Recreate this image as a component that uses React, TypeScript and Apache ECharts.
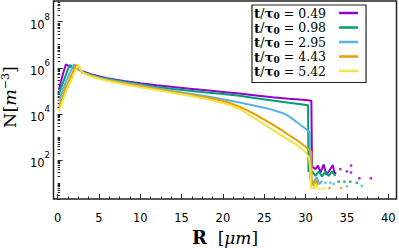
import React, { useEffect, useRef } from 'react';
import * as echarts from 'echarts';

// legend values t/tau0
const timeLabels = ['0.49', '0.98', '2.95', '4.43', '5.42'];
const colors = ['#9400D3', '#009E73', '#56B4E9', '#E69F00', '#F0E442'];

// x tick labels (R in μm) and y tick exponents (N = 10^k)
const xTicks = [0, 5, 10, 15, 20, 25, 30, 35, 40];
const yTickExp = [2, 4, 6, 8];

// Main curves: [R (μm), log10 N (m^-3)]
const curve049: [number, number][] = [
  [0.15, 5.05], [0.4, 5.4], [0.7, 5.8], [1.0, 6.15], [1.2, 6.1], [1.6, 6.05], [2.0, 6.0], [2.5, 5.95],
  [3.0, 5.85], [4, 5.72], [5, 5.63], [6, 5.55], [8, 5.43], [10, 5.33], [12, 5.24], [14, 5.16],
  [16, 5.09], [18, 5.02], [20, 4.95], [22, 4.88], [24, 4.8], [26, 4.72], [28, 4.65], [30, 4.6],
  [30.7, 4.57], [30.75, 2.6], [30.8, 1.7], [31.2, 1.6], [31.5, 1.75], [31.8, 1.45], [32.2, 1.8],
  [32.5, 1.35], [32.9, 1.55], [33.3, 1.78], [33.5, 1.4], [33.7, 1.45],
];
const curve098: [number, number][] = [
  [0.15, 4.85], [0.5, 5.2], [0.9, 5.6], [1.2, 5.9], [1.5, 6.12], [1.8, 6.02], [2.2, 5.96], [2.6, 5.92],
  [3.0, 5.82], [4, 5.7], [5, 5.6], [6, 5.52], [8, 5.39], [10, 5.28], [12, 5.17], [14, 5.08],
  [16, 5.0], [18, 4.93], [20, 4.86], [22, 4.78], [24, 4.68], [26, 4.58], [28, 4.48], [30.3, 4.37],
  [30.35, 1.5], [30.8, 1.5], [31.2, 1.3], [31.6, 1.5], [32.0, 1.28], [32.4, 1.5], [32.8, 1.3],
  [33.2, 1.5], [33.6, 1.3],
];
const curve295: [number, number][] = [
  [0.15, 4.55], [0.6, 5.0], [1.0, 5.4], [1.5, 5.8], [2.0, 6.15], [2.3, 6.0], [2.7, 5.9], [3.0, 5.8],
  [4, 5.68], [5, 5.58], [6, 5.49], [8, 5.36], [10, 5.24], [12, 5.11], [14, 4.98], [16, 4.87],
  [18, 4.76], [20, 4.63], [22, 4.49], [24, 4.34], [25, 4.26], [26, 4.17], [27, 4.06], [27.5, 3.99],
  [28, 3.89], [28.5, 3.76], [29, 3.62], [29.5, 3.48], [30.2, 3.3], [30.5, 3.2], [30.55, 1.2],
  [30.9, 1.0], [31.3, 1.25], [31.7, 0.95], [32.0, 1.1],
];
const curve443: [number, number][] = [
  [0.15, 4.3], [0.6, 4.75], [1.0, 5.15], [1.5, 5.55], [2.0, 5.95], [2.3, 6.13], [2.6, 5.95], [3.0, 5.78],
  [4, 5.66], [5, 5.55], [6, 5.47], [8, 5.33], [10, 5.21], [12, 5.08], [14, 4.95], [16, 4.83],
  [17, 4.77], [18, 4.71], [19, 4.64], [20, 4.56], [21, 4.45], [22, 4.31], [23, 4.14], [24, 3.95],
  [25, 3.75], [26, 3.54], [27, 3.31], [28, 3.07], [29, 2.84], [30, 2.57], [30.7, 2.35], [30.75, 0.95],
  [31.0, 0.9], [31.3, 1.1], [31.5, 0.9],
];
const curve542: [number, number][] = [
  [0.15, 4.1], [0.6, 4.55], [1.0, 4.95], [1.5, 5.35], [2.0, 5.75], [2.5, 6.13], [2.8, 5.9], [3.2, 5.75],
  [4, 5.62], [5, 5.52], [6, 5.44], [8, 5.28], [10, 5.15], [12, 5.03], [14, 4.9], [16, 4.78],
  [17, 4.71], [18, 4.64], [19, 4.56], [20, 4.47], [21, 4.36], [22, 4.21], [23, 4.0], [24, 3.77],
  [25, 3.54], [26, 3.31], [27, 3.07], [28, 2.86], [29, 2.63], [30, 2.33], [30.4, 2.1], [30.6, 1.5],
  [30.65, 0.78], [31.1, 0.78], [31.2, 0.95], [31.4, 0.78],
];

// Isolated points beyond the edge: [R, log10 N]
const tail049: [number, number][] = [[34.2, 1.6], [35.0, 1.5], [35.5, 1.75], [35.5, 1.45], [36.5, 1.2], [37.9, 1.2]];
const tail098: [number, number][] = [[34.0, 1.05], [34.7, 1.05], [35.4, 1.05], [36.2, 1.0]];
const tail295: [number, number][] = [[32.4, 1.0], [33.0, 1.0], [33.4, 0.95], [35.0, 0.85], [36.8, 0.87]];
const tail443: [number, number][] = [[32.9, 0.78], [34.3, 0.78]];
const tail542: [number, number][] = [[31.7, 0.75], [32.2, 0.75]];

const curves = [curve049, curve098, curve295, curve443, curve542];
const tails = [tail049, tail098, tail295, tail443, tail542];

export default function App() {
  const ref = useRef<HTMLDivElement>(null);
  useEffect(() => {
    if (!ref.current) return;
    const chart = echarts.init(ref.current, undefined, { renderer: 'svg' });

    const xMinor: number[] = [];
    for (let v = 0; v <= 40.01; v += 1.25) if (Math.abs(v / 5 - Math.round(v / 5)) > 1e-6) xMinor.push(v);
    const yMinor: number[] = [];
    for (let n = 0; n <= 8; n++) {
      if (n % 2 === 1) yMinor.push(n);
      for (let k = 2; k <= 9; k++) {
        const v = n + Math.log10(k);
        if (v > 0.3 && v < 8.9) yMinor.push(v);
      }
    }

    const serif = 'DejaVu Serif';
    const series: any[] = [];
    curves.forEach((c, i) => {
      series.push({
        type: 'line',
        name: timeLabels[i],
        data: c,
        symbol: 'none',
        color: colors[i],
        lineStyle: { width: 2, color: colors[i] },
        z: 2 + i,
      });
    });
    tails.forEach((t, i) => {
      series.push({
        type: 'scatter',
        data: t,
        symbol: 'rect',
        symbolSize: 2.5,
        itemStyle: { color: colors[i] },
        z: 2 + i,
      });
    });

    const option: any = {
      animation: false,
      grid: {
        left: 53.5, right: 2.5, top: 1, bottom: 49,
        show: true, borderColor: '#222', borderWidth: 1.5,
        outerBoundsMode: 'none',
      },
      legend: {
        data: timeLabels,
        orient: 'vertical',
        left: 252,
        top: 5,
        align: 'right',
        icon: 'rect',
        itemWidth: 19,
        itemHeight: 2.5,
        itemGap: 0,
        padding: [1, 8, 4, 2],
        borderColor: '#222',
        borderWidth: 1.2,
        backgroundColor: '#fff',
        formatter: (name: string) => `{b|t}{r|/}{b|τ}{s|0}{r| = ${name}}{g|}`,
        textStyle: {
          fontFamily: serif,
          fontSize: 12.5,
          color: '#000',
          rich: {
            b: { fontFamily: serif, fontWeight: 'bold', fontSize: 13.5, lineHeight: 15, color: '#000' },
            r: { fontFamily: serif, fontSize: 12.5, lineHeight: 15, color: '#000' },
            s: { fontFamily: serif, fontWeight: 'bold', fontSize: 9, lineHeight: 15, verticalAlign: 'bottom', color: '#000' },
            g: { width: 8, lineHeight: 15 },
          },
        },
      },
      xAxis: [
        {
          type: 'value', min: -0.5, max: 41,
          name: '{b|R}{r|  [}{i|μm}{r|]}',
          nameLocation: 'middle', nameGap: 26,
          nameTextStyle: {
            rich: {
              b: { fontFamily: serif, fontWeight: 'bold', fontSize: 18, color: '#000' },
              r: { fontFamily: serif, fontSize: 17, color: '#000' },
              i: { fontFamily: serif, fontStyle: 'italic', fontSize: 17, color: '#000' },
            },
          },
          axisLine: { show: false },
          splitLine: { show: false },
          axisTick: { show: true, inside: true, length: 5, customValues: xTicks, lineStyle: { color: '#222' } },
          axisLabel: {
            customValues: xTicks, fontFamily: 'DejaVu Sans', fontSize: 11.5, color: '#000', margin: 13,
          },
        },
        {
          type: 'value', min: -0.5, max: 41, position: 'bottom', offset: 0,
          axisLine: { show: false }, splitLine: { show: false }, axisLabel: { show: false },
          axisTick: { show: true, inside: true, length: 2.5, customValues: xMinor, lineStyle: { color: '#222' } },
        },
      ],
      yAxis: [
        {
          type: 'value', min: 0.3, max: 8.9,
          name: '{r|N[}{i|m}{s|−3}{r|]}',
          nameLocation: 'middle', nameGap: 25, nameRotate: 90,
          nameTextStyle: {
            padding: [0, 0, 0, 6],
            rich: {
              r: { fontFamily: serif, fontSize: 17.5, color: '#000', lineHeight: 20 },
              i: { fontFamily: serif, fontStyle: 'italic', fontSize: 17.5, color: '#000', lineHeight: 20 },
              s: { fontFamily: serif, fontSize: 11, color: '#000', verticalAlign: 'top', lineHeight: 20 },
            },
          },
          axisLine: { show: false },
          splitLine: { show: false },
          axisTick: { show: true, inside: true, length: 5, customValues: yTickExp, lineStyle: { color: '#222' } },
          axisLabel: {
            customValues: yTickExp, color: '#000', margin: 3.5,
            formatter: (v: number) => `{a|10}{e|${Math.round(v)}}`,
            rich: {
              a: { fontFamily: 'DejaVu Sans', fontSize: 11.5, color: '#000', lineHeight: 18, verticalAlign: 'bottom' },
              e: { fontFamily: 'DejaVu Sans', fontSize: 8.5, color: '#000', lineHeight: 18, verticalAlign: 'top' },
            },
          },
        },
        {
          type: 'value', min: 0.3, max: 8.9, position: 'left', offset: 0,
          axisLine: { show: false }, splitLine: { show: false }, axisLabel: { show: false },
          axisTick: { show: true, inside: true, length: 2.5, customValues: yMinor, lineStyle: { color: '#222' } },
        },
      ],
      series,
    };
    chart.setOption(option);
    return () => chart.dispose();
  }, []);
  return <div ref={ref} style={{ position: 'fixed', left: 0, top: 0, width: 399, height: 248, background: '#fff' }} />;
}
